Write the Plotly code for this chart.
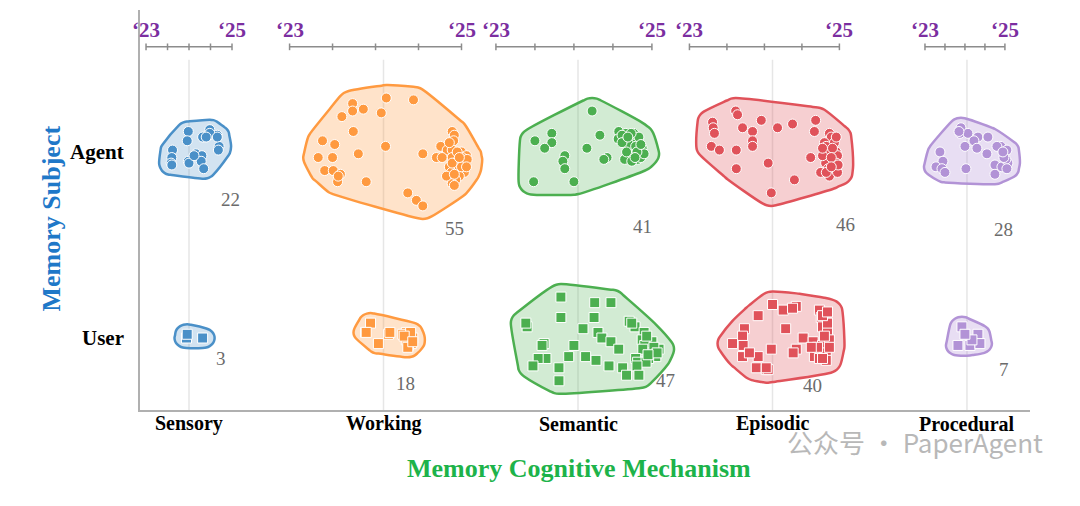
import numpy as np
import plotly.graph_objects as go

categories = ["Sensory", "Working", "Semantic", "Episodic", "Procedural"]
subjects = ["User", "Agent"]
counts_agent = [22, 55, 41, 46, 28]
counts_user = [3, 18, 47, 40, 7]
year_start, year_end = "‘23", "‘25"

# months since start of '23 (0..24) and vertical jitter (hundredths of a row unit)
sens_agent_m = [11.8,17.8,11.5,15.8,17.5,19.9,7.4,13.9,15.6,20.4,20.2,7.2,7.0,7.2,11.8,12.0,15.4,16.1,13.4,17.8,16.8,19.9]
sens_agent_j = [11,12,6,8,9,9,1,-1,-2,3,1,-3,-6,-7,-5,-6,-5,-9,-2,10,8,8]
sens_user_m = [11.3,15.8,11.5]
sens_user_j = [0,0,2]
work_agent_m = [8.8,13.5,17.3,8.8,10.3,12.8,7.3,8.9,22.7,23.0,22.9,4.6,6.3,13.4,21.1,22.0,22.7,24.0,24.7,4.0,6.0,9.6,18.6,20.5,22.7,24.1,23.4,24.4,22.3,23.3,4.9,6.1,7.1,6.7,10.7,22.6,24.4,23.7,23.2,22.7,23.0,16.5,17.7,18.6,22.3,21.3,24.8,21.9,24.0,23.4,22.7,24.7,23.7,23.0,6.8]
work_agent_j = [26,29,28,22,23,21,19,11,11,9,6,6,4,3,3,1,1,0,-2,-3,-3,-1,-1,-3,-3,-3,-5,-6,-8,-8,-10,-10,-12,-16,-16,-11,-11,-13,-15,-17,-18,-22,-26,-29,5,-3,-4,-13,-8,0,-6,-8,-3,-12,-13]
work_user_m = [11.3,10.6,13.8,12.4,16.3,16.7,16.5,17.0,16.6,16.3,17.2,15.8,16.9,16.5,10.7,14.0,16.0,17.2]
work_user_j = [8,3,2,-3,3,1,-1,-3,-4,-1,0,2,3,-5,3,3,1,-2]
sem_agent_m = [14.8,6.0,8.6,8.6,7.5,10.6,10.3,10.6,14.0,16.0,17.1,16.6,5.8,12.0,18.9,20.0,21.2,18.8,20.0,21.1,21.7,22.5,20.9,21.4,20.6,21.8,19.8,22.3,20.5,19.4,21.5,22.8,20.1,22.0,19.4,20.9,21.7,20.8,22.3,21.4,20.3]
sem_agent_j = [22,6,10,5,2,-2,-5,-9,2,9,-3,-4,-16,-16,11,10,10,7,5,8,5,2,1,-1,-2,-4,-4,-3,4,9,3,-1,0,8,5,-5,0,10,4,-3,8]
sem_user_m = [10.0,15.2,17.7,10.0,15.1,4.8,13.4,15.7,16.3,17.7,7.4,7.1,11.2,13.8,7.7,6.5,15.4,5.7,9.7,20.5,21.4,22.8,22.5,24.0,22.9,25.1,23.8,22.6,24.6,23.5,21.5,21.8,23.1,19.5,20.1,20.9,23.2,24.3,21.7,24.8,23.4,4.6,9.7,12.0,17.4,18.9,22.0]
sem_user_j = [22,19,19,11,11,6,5,3,0,-2,-3,-4,-10,-10,-11,-11,-12,-15,-16,9,6,3,-1,-2,-4,-6,-8,-6,-10,-11,-11,-13,-13,-16,-20,8,1,-5,-15,-8,-9,8,-23,-4,-15,-6,-20]
epi_agent_m = [7.4,3.7,3.8,4.0,11.5,8.5,10.1,14.1,16.5,20.2,20.0,10.1,10.1,3.5,4.8,7.5,12.6,7.5,19.4,16.8,13.1,21.0,22.4,22.7,21.6,23.2,21.9,23.5,22.1,23.7,22.4,23.5,21.8,23.2,22.4,23.7,21.3,22.9,22.2,23.8,7.7,21.3,22.7,21.9,23.5,22.7]
epi_agent_j = [22,16,13,10,17,13,11,13,15,17,11,6,3,3,1,1,-6,-9,-3,-15,-22,-11,10,8,5,5,3,0,-1,-2,-4,-6,-6,-9,-13,-11,-2,2,-9,-7,20,2,-3,-11,8,-8]
epi_user_m = [13.3,17.1,15.0,11.0,20.8,21.1,8.8,15.4,21.3,8.5,18.2,19.8,6.9,8.6,21.3,13.1,17.1,16.6,21.9,8.5,11.0,20.0,10.7,12.3,12.6,22.1,22.4,21.6,22.1,20.8,21.9,16.5,21.3,22.4,20.5,21.3,19.5,22.1,9.6,12.3]
epi_user_j = [18,17,15,12,15,11,5,5,6,1,0,-2,-3,-4,-4,-6,-6,-8,-8,-10,-10,-10,-16,-17,-17,3,-1,1,8,-11,-12,16,12,-5,-5,-11,-5,14,-8,-16]
proc_agent_m = [10.8,10.5,12.9,15.9,18.9,14.7,12.0,15.6,22.8,18.6,4.5,5.4,3.3,5.1,6.0,12.3,21.0,21.0,24.0,24.6,24.9,23.1,24.3,23.7,10.2,24.6,21.6,23.4]
proc_agent_j = [13,10,10,8,8,6,3,2,3,-1,0,-5,-8,-9,-11,-9,-7,-12,-1,1,-6,-8,-4,-3,11,-9,3,0]
proc_user_m = [11.1,9.9,13.5,15.9,16.5,14.1,12.0]
proc_user_j = [6,-4,-4,2,-3,-1,2]

agent_m = [sens_agent_m, work_agent_m, sem_agent_m, epi_agent_m, proc_agent_m]
agent_j = [sens_agent_j, work_agent_j, sem_agent_j, epi_agent_j, proc_agent_j]
user_m = [sens_user_m, work_user_m, sem_user_m, epi_user_m, proc_user_m]
user_j = [sens_user_j, work_user_j, sem_user_j, epi_user_j, proc_user_j]

# styling / layout constants
line_cols = ["#4a90c8", "#ff9a40", "#4caf50", "#e0525a", "#b293d6"]
fill_cols = ["rgba(74,144,200,0.25)", "rgba(255,154,64,0.28)", "rgba(76,175,80,0.25)",
             "rgba(224,82,90,0.28)", "rgba(178,147,214,0.30)"]
tl_left = [-0.221, -0.483, -0.422, -0.427, -0.216]
tl_right = [0.221, 0.401, 0.380, 0.344, 0.195]
PXX, PXY = 194.5, 186.0
XR = [-0.252, 4.324]
YR = [-0.387, 1.763]
TL_Y = 1.565
serif = "Liberation Serif, DejaVu Serif, serif"

def hull(pts):
    pts = sorted(set(pts))
    if len(pts) < 3:
        return pts
    def cross(o, a, b):
        return (a[0]-o[0])*(b[1]-o[1]) - (a[1]-o[1])*(b[0]-o[0])
    lo, up = [], []
    for p in pts:
        while len(lo) >= 2 and cross(lo[-2], lo[-1], p) <= 0:
            lo.pop()
        lo.append(p)
    for p in reversed(pts):
        while len(up) >= 2 and cross(up[-2], up[-1], p) <= 0:
            up.pop()
        up.append(p)
    return lo[:-1] + up[:-1]

fig = go.Figure()
for i in range(5):
    for row, ms, js, sym in [(1, agent_m[i], agent_j[i], "circle"), (0, user_m[i], user_j[i], "square")]:
        xs = [i + tl_left[i] + m/24*(tl_right[i]-tl_left[i]) for m in ms]
        ys = [row + j/100 for j in js]
        ring = []
        ang = np.linspace(0, 2*np.pi, 20, endpoint=False)
        pad = 15 if len(ms) > 30 else 12
        for x, y in zip(xs, ys):
            for a in ang:
                ring.append((round(x*PXX + pad*np.cos(a), 2), round(y*PXY + (pad-2)*np.sin(a), 2)))
        h = hull(ring)
        h = h + [h[0]]
        fig.add_trace(go.Scatter(x=[p[0]/PXX for p in h], y=[p[1]/PXY for p in h], mode="lines",
                                 line=dict(color=line_cols[i], width=2.5, shape="spline", smoothing=1.0),
                                 fill="toself", fillcolor=fill_cols[i], hoverinfo="skip", showlegend=False))
        fig.add_trace(go.Scatter(x=xs, y=ys, mode="markers", showlegend=False,
                                 marker=dict(symbol=sym, size=10, color=line_cols[i],
                                             line=dict(color="white", width=1))))

shapes = []
for i in range(5):
    shapes.append(dict(type="line", xref="x", yref="y", x0=i, x1=i, y0=1.495, y1=YR[0],
                       line=dict(color="#e6e6e6", width=1.5), layer="below"))
    l, r = i + tl_left[i], i + tl_right[i]
    shapes.append(dict(type="line", xref="x", yref="y", x0=l, x1=r, y0=TL_Y, y1=TL_Y,
                       line=dict(color="#8c8c8c", width=1.5)))
    for k in range(5):
        xt = l + k/4*(r-l)
        shapes.append(dict(type="line", xref="x", yref="y", x0=xt, x1=xt, y0=TL_Y-0.018, y1=TL_Y+0.018,
                           line=dict(color="#8c8c8c", width=1.5)))

ann = []
for i in range(5):
    ann.append(dict(x=i + tl_left[i], y=1.656, text="<b>%s</b>" % year_start, showarrow=False,
                    font=dict(family=serif, size=21, color="#7b2ea0")))
    ann.append(dict(x=i + tl_right[i], y=1.656, text="<b>%s</b>" % year_end, showarrow=False,
                    font=dict(family=serif, size=21, color="#7b2ea0")))
    ann.append(dict(x=i, y=-0.0675, xref="x", yref="paper", text="<b>%s</b>" % categories[i],
                    showarrow=False, font=dict(family=serif, size=20, color="black")))
agent_lbl = [(0.212, 0.258), (0.366, 0.413), (0.334, 0.398), (0.377, 0.392), (0.190, 0.419)]
user_lbl = [(0.165, -0.108), (0.113, -0.247), (0.449, -0.231), (0.206, -0.253), (0.190, -0.167)]
for i in range(5):
    ann.append(dict(x=i + agent_lbl[i][0], y=1 - agent_lbl[i][1], text=str(counts_agent[i]), showarrow=False,
                    font=dict(family=serif, size=19, color="#6b6b6b")))
    ann.append(dict(x=i + user_lbl[i][0], y=user_lbl[i][1], text=str(counts_user[i]), showarrow=False,
                    font=dict(family=serif, size=19, color="#6b6b6b")))
for row, name in [(1, subjects[1]), (0, subjects[0])]:
    ann.append(dict(x=-0.0157, xref="paper", y=row, text="<b>%s</b>" % name, xanchor="right",
                    showarrow=False, font=dict(family=serif, size=21, color="black")))
ann.append(dict(x=-0.118, xref="paper", y=0.48, yref="paper", text="<b>Memory Subject</b>", textangle=-90,
                showarrow=False, font=dict(family=serif, size=26, color="#1f78c8")))
ann.append(dict(x=0.493, xref="paper", y=-0.1875, yref="paper", text="<b>Memory Cognitive Mechanism</b>",
                showarrow=False, font=dict(family=serif, size=26, color="#1db34a")))
ann.append(dict(x=1.017, xref="paper", y=-0.13, yref="paper", text="公众号 · PaperAgent", xanchor="right",
                showarrow=False, font=dict(family="Noto Sans CJK SC", size=26, color="#b8b8b8")))

fig.update_layout(width=1080, height=506, margin=dict(l=132, r=58, t=2, b=104),
                  plot_bgcolor="white", paper_bgcolor="white", shapes=shapes, annotations=ann,
                  xaxis=dict(range=XR, showgrid=False, zeroline=False, showticklabels=False,
                             showline=True, linecolor="#b0b0b0", linewidth=1.5),
                  yaxis=dict(range=YR, showgrid=False, zeroline=False, showticklabels=False,
                             showline=True, linecolor="#b0b0b0", linewidth=1.5))
fig.write_html("out.html")
